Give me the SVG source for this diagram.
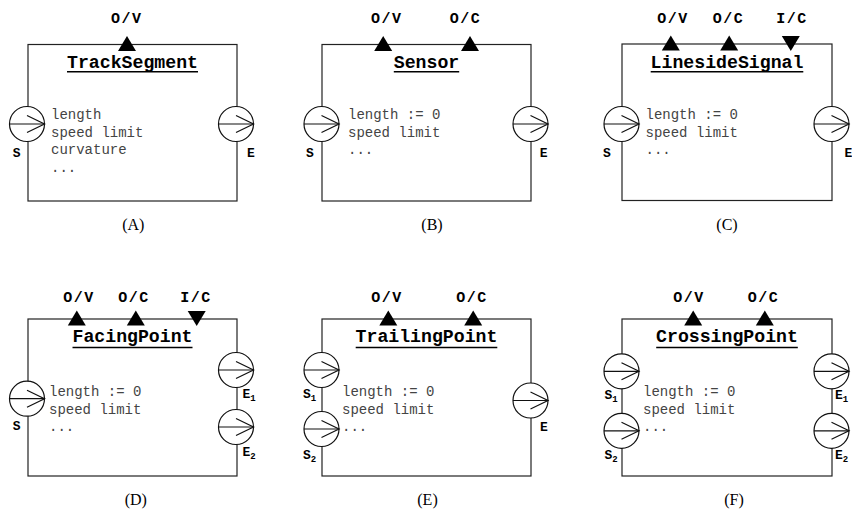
<svg xmlns="http://www.w3.org/2000/svg" xmlns:xlink="http://www.w3.org/1999/xlink" width="852" height="511" viewBox="0 0 852 511">
<style>
.box{fill:none;stroke:#222;stroke-width:1.2}
.pc{fill:#fff;stroke:#111;stroke-width:1.2}
.pl{fill:none;stroke:#111;stroke-width:1.2}
.tri{fill:#000}
.ul{stroke:#000;stroke-width:1.6}
.title{font-family:"Liberation Mono","Courier New",monospace;font-weight:bold;font-size:18.2px;fill:#000;text-anchor:middle}
.pt{font-family:"Liberation Mono","Courier New",monospace;font-weight:bold;font-size:15px;letter-spacing:1.5px;fill:#000;text-anchor:middle}
.lbl{font-family:"Liberation Mono","Courier New",monospace;font-weight:bold;font-size:13px;fill:#000}
.mid{text-anchor:middle}
.sub{font-size:9px}
.body{font-family:"Liberation Mono","Courier New",monospace;font-size:14px;fill:#444}
.cap{font-family:"Liberation Serif","Times New Roman",serif;font-size:16px;fill:#000;text-anchor:middle}
</style>
<defs>
<g id="port">
<circle class="pc" cx="0" cy="0" r="17.5"/>
<line class="pl" x1="-17.5" y1="0" x2="17.5" y2="0"/>
<polyline class="pl" points="0,-8.5 17.5,0 0,8.5"/>
</g>
<path id="up" class="tri" d="M-9,6.5 L9,6.5 L0,-8.5 Z"/>
<path id="down" class="tri" d="M-9,-8 L9,-8 L0,7 Z"/>
</defs>
<rect width="852" height="511" fill="#fff"/>

<g id="nodeA">
<rect class="box" x="28" y="44.5" width="209" height="156.5"/>
<use xlink:href="#up" x="127" y="44.5"/>
<text class="pt" x="126.7" y="23">O/V</text>
<text class="title" x="132.5" y="68.3">TrackSegment</text>
<line class="ul" x1="67" y1="71.8" x2="198" y2="71.8"/>
<text class="body" x="51" y="119">length</text>
<text class="body" x="51" y="136.5">speed limit</text>
<text class="body" x="51" y="154">curvature</text>
<text class="body" x="51" y="171.5">...</text>
<use xlink:href="#port" x="27" y="124"/>
<use xlink:href="#port" x="236" y="124"/>
<text class="lbl mid" x="16.7" y="157">S</text>
<text class="lbl mid" x="250.8" y="157">E</text>
<text class="cap" x="133.3" y="229.5">(A)</text>
</g>

<g id="nodeB">
<rect class="box" x="322" y="44.5" width="209" height="156.5"/>
<use xlink:href="#up" x="383.2" y="44.5"/>
<use xlink:href="#up" x="470" y="44.5"/>
<text class="pt" x="386.7" y="23">O/V</text>
<text class="pt" x="465.5" y="23">O/C</text>
<text class="title" x="426.5" y="68.3">Sensor</text>
<line class="ul" x1="393.8" y1="71.8" x2="459.2" y2="71.8"/>
<text class="body" x="348" y="119">length := 0</text>
<text class="body" x="348" y="136.5">speed limit</text>
<text class="body" x="348" y="154">...</text>
<use xlink:href="#port" x="321.5" y="124"/>
<use xlink:href="#port" x="530.5" y="124"/>
<text class="lbl mid" x="310" y="157">S</text>
<text class="lbl mid" x="543.7" y="157">E</text>
<text class="cap" x="432" y="229.5">(B)</text>
</g>

<g id="nodeC">
<rect class="box" x="622" y="44" width="210" height="156.5"/>
<use xlink:href="#up" x="670.8" y="44"/>
<use xlink:href="#up" x="729.2" y="44"/>
<use xlink:href="#down" x="790.8" y="44"/>
<text class="pt" x="673" y="23">O/V</text>
<text class="pt" x="728.5" y="23">O/C</text>
<text class="pt" x="792" y="23">I/C</text>
<text class="title" x="727" y="68.3">LinesideSignal</text>
<line class="ul" x1="650.7" y1="71.8" x2="803.3" y2="71.8"/>
<text class="body" x="645.5" y="119">length := 0</text>
<text class="body" x="645.5" y="136.5">speed limit</text>
<text class="body" x="645.5" y="154">...</text>
<use xlink:href="#port" x="621.5" y="124"/>
<use xlink:href="#port" x="831.5" y="124"/>
<text class="lbl mid" x="607" y="157">S</text>
<text class="lbl mid" x="848.3" y="157">E</text>
<text class="cap" x="727" y="229.5">(C)</text>
</g>

<g id="nodeD">
<rect class="box" x="28" y="319" width="209" height="157"/>
<use xlink:href="#up" x="76.8" y="319"/>
<use xlink:href="#up" x="135.8" y="319"/>
<use xlink:href="#down" x="196.7" y="319"/>
<text class="pt" x="79" y="302">O/V</text>
<text class="pt" x="134" y="302">O/C</text>
<text class="pt" x="196" y="302">I/C</text>
<text class="title" x="132.5" y="342.3">FacingPoint</text>
<line class="ul" x1="72.5" y1="347.5" x2="192.5" y2="347.5"/>
<text class="body" x="49" y="396">length := 0</text>
<text class="body" x="49" y="413.5">speed limit</text>
<text class="body" x="49" y="431">...</text>
<use xlink:href="#port" x="27" y="398.7"/>
<use xlink:href="#port" x="236" y="370"/>
<use xlink:href="#port" x="236" y="427"/>
<text class="lbl mid" x="16.7" y="430">S</text>
<text class="lbl" x="242.5" y="398.3">E<tspan class="sub" dy="3">1</tspan></text>
<text class="lbl" x="242.5" y="455.5">E<tspan class="sub" dy="3">2</tspan></text>
<text class="cap" x="135.8" y="505">(D)</text>
</g>

<g id="nodeE">
<rect class="box" x="322" y="319" width="209" height="157"/>
<use xlink:href="#up" x="388.3" y="319"/>
<use xlink:href="#up" x="473.2" y="319"/>
<text class="pt" x="387" y="302">O/V</text>
<text class="pt" x="472" y="302">O/C</text>
<text class="title" x="426.5" y="342.3">TrailingPoint</text>
<line class="ul" x1="355.7" y1="347.5" x2="497.3" y2="347.5"/>
<text class="body" x="342" y="396">length := 0</text>
<text class="body" x="342" y="413.5">speed limit</text>
<text class="body" x="342" y="431">...</text>
<use xlink:href="#port" x="321.5" y="370"/>
<use xlink:href="#port" x="321.5" y="429"/>
<use xlink:href="#port" x="530.5" y="400.5"/>
<text class="lbl" x="303" y="397.7">S<tspan class="sub" dy="3">1</tspan></text>
<text class="lbl" x="303" y="459">S<tspan class="sub" dy="3">2</tspan></text>
<text class="lbl mid" x="544" y="431">E</text>
<text class="cap" x="427.5" y="505">(E)</text>
</g>

<g id="nodeF">
<rect class="box" x="622" y="319" width="210" height="157"/>
<use xlink:href="#up" x="693.2" y="319"/>
<use xlink:href="#up" x="764.8" y="319"/>
<text class="pt" x="689" y="302">O/V</text>
<text class="pt" x="763.5" y="302">O/C</text>
<text class="title" x="727" y="342.3">CrossingPoint</text>
<line class="ul" x1="656.2" y1="347.5" x2="797.8" y2="347.5"/>
<text class="body" x="643" y="396">length := 0</text>
<text class="body" x="643" y="413.5">speed limit</text>
<text class="body" x="643" y="431">...</text>
<use xlink:href="#port" x="621.5" y="371.3"/>
<use xlink:href="#port" x="621.5" y="430.8"/>
<use xlink:href="#port" x="831.5" y="371.3"/>
<use xlink:href="#port" x="831.5" y="430.8"/>
<text class="lbl" x="604.5" y="399">S<tspan class="sub" dy="3">1</tspan></text>
<text class="lbl" x="604.5" y="459">S<tspan class="sub" dy="3">2</tspan></text>
<text class="lbl" x="835" y="399">E<tspan class="sub" dy="3">1</tspan></text>
<text class="lbl" x="835" y="459">E<tspan class="sub" dy="3">2</tspan></text>
<text class="cap" x="734" y="505">(F)</text>
</g>

<g id="connectors"></g>
</svg>
